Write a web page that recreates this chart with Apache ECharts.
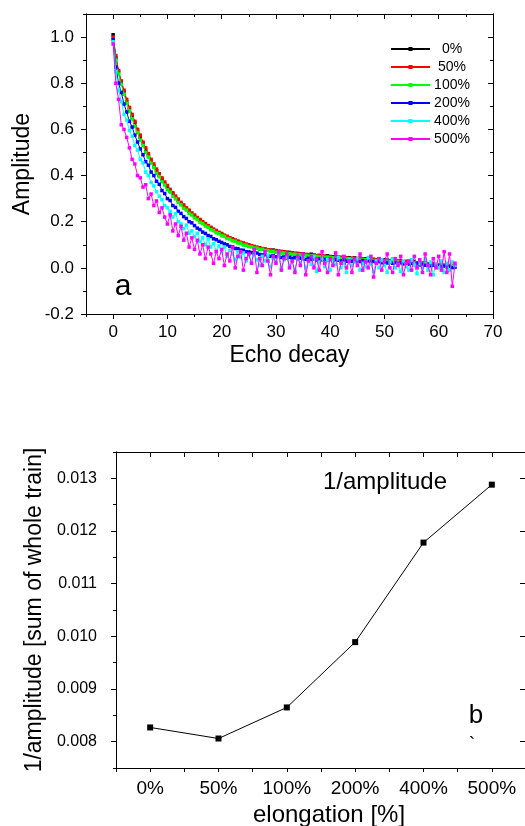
<!DOCTYPE html>
<html>
<head>
<meta charset="utf-8">
<script src="https://cdn.jsdelivr.net/npm/echarts@6/dist/echarts.min.js"></script>
<style>
html,body{margin:0;padding:0;background:#fff;}
#chart{width:525px;height:826px;}
</style>
</head>
<body>
<div id="chart"></div>
<script>
// ---------- Panel a: echo decay ----------
const echoTimes = [0,0.5,1,1.5,2,2.5,3,3.5,4,4.5,5,5.5,6,6.5,7,7.5,8,8.5,9,9.5,10,10.5,11,11.5,12,12.5,13,13.5,14,14.5,15,15.5,16,16.5,17,17.5,18,18.5,19,19.5,20,20.5,21,21.5,22,22.5,23,23.5,24,24.5,25,25.5,26,26.5,27,27.5,28,28.5,29,29.5,30,30.5,31,31.5,32,32.5,33,33.5,34,34.5,35,35.5,36,36.5,37,37.5,38,38.5,39,39.5,40,40.5,41,41.5,42,42.5,43,43.5,44,44.5,45,45.5,46,46.5,47,47.5,48,48.5,49,49.5,50,50.5,51,51.5,52,52.5,53,53.5,54,54.5,55,55.5,56,56.5,57,57.5,58,58.5,59,59.5,60,60.5,61,61.5,62,62.5,63];

const amp0 = [1.01,0.91,0.85,0.80,0.765,0.72,0.69,0.655,0.63,0.595,
0.565,0.54,0.51,0.487,0.462,0.44,0.421,0.40,0.383,0.366,
0.35,0.333,0.32,0.306,0.292,0.279,0.266,0.256,0.245,0.233,
0.224,0.215,0.206,0.195,0.188,0.181,0.173,0.164,0.158,0.152,
0.145,0.14,0.133,0.129,0.122,0.119,0.114,0.108,0.104,0.101,
0.097,0.095,0.09,0.088,0.085,0.083,0.08,0.078,0.076,0.077,
0.073,0.072,0.07,0.069,0.066,0.067,0.064,0.063,0.062,0.06,
0.061,0.058,0.057,0.059,0.055,0.053,0.054,0.051,0.05,0.052,
0.049,0.048,0.05,0.046,0.045,0.047,0.043,0.044,0.041,0.043,
0.04,0.042,0.038,0.039,0.04,0.036,0.037,0.035,0.038,0.034,
0.035,0.033,0.031,0.034,0.03,0.029,0.031,0.027,0.028,0.026,
0.025,0.027,0.022,0.023,0.02,0.021,0.018,0.016,0.017,0.014,
0.012,0.013,0.009,0.01,0.007,0.008,0.005];

const amp50 = [1.0,0.92,0.855,0.81,0.77,0.73,0.695,0.665,0.635,0.60,
0.575,0.545,0.52,0.495,0.47,0.45,0.428,0.408,0.39,0.372,
0.357,0.34,0.326,0.311,0.298,0.284,0.273,0.26,0.25,0.238,
0.229,0.218,0.21,0.2,0.192,0.183,0.176,0.168,0.162,0.154,
0.149,0.141,0.137,0.13,0.126,0.12,0.116,0.111,0.108,0.103,
0.1,0.096,0.093,0.089,0.087,0.083,0.082,0.078,0.077,0.074,
0.075,0.07,0.071,0.067,0.068,0.064,0.065,0.061,0.062,0.059,
0.059,0.056,0.057,0.054,0.055,0.051,0.052,0.049,0.05,0.047,
0.048,0.045,0.047,0.043,0.045,0.042,0.043,0.04,0.041,0.038,
0.04,0.037,0.038,0.035,0.037,0.034,0.035,0.032,0.034,0.031,
0.032,0.029,0.031,0.028,0.029,0.026,0.027,0.025,0.026,0.023,
0.024,0.021,0.022,0.019,0.02,0.017,0.018,0.015,0.016,0.013,
0.014,0.011,0.012,0.009,0.01,0.007,0.008];

const amp100 = [0.99,0.90,0.84,0.795,0.752,0.713,0.68,0.646,0.613,0.586,
0.554,0.53,0.5,0.48,0.454,0.435,0.41,0.395,0.373,0.359,
0.339,0.328,0.31,0.299,0.283,0.273,0.258,0.25,0.236,0.229,
0.216,0.209,0.197,0.192,0.181,0.176,0.165,0.161,0.152,0.148,
0.139,0.136,0.127,0.125,0.117,0.115,0.108,0.106,0.099,0.098,
0.092,0.091,0.086,0.085,0.08,0.08,0.075,0.075,0.071,0.071,
0.067,0.068,0.064,0.064,0.061,0.061,0.058,0.059,0.055,0.056,
0.053,0.054,0.051,0.052,0.049,0.05,0.047,0.048,0.045,0.046,
0.043,0.044,0.042,0.043,0.04,0.041,0.038,0.04,0.037,0.038,
0.035,0.037,0.034,0.035,0.033,0.034,0.031,0.032,0.03,0.031,
0.028,0.029,0.027,0.028,0.025,0.026,0.023,0.025,0.022,0.023,
0.02,0.021,0.018,0.02,0.017,0.018,0.015,0.016,0.013,0.014,
0.011,0.012,0.009,0.01,0.007,0.008,0.006];

const amp200 = [0.99,0.87,0.80,0.76,0.71,0.675,0.635,0.61,0.575,0.545,
0.515,0.49,0.46,0.445,0.415,0.40,0.375,0.362,0.335,0.322,
0.30,0.292,0.27,0.262,0.245,0.236,0.222,0.214,0.2,0.195,
0.183,0.172,0.166,0.155,0.149,0.14,0.136,0.126,0.122,0.115,
0.11,0.104,0.1,0.093,0.091,0.084,0.083,0.077,0.076,0.07,
0.069,0.066,0.062,0.064,0.058,0.056,0.057,0.052,0.05,0.053,
0.048,0.05,0.045,0.047,0.043,0.046,0.041,0.044,0.039,0.042,
0.04,0.037,0.041,0.036,0.039,0.034,0.038,0.035,0.037,0.032,
0.036,0.031,0.035,0.033,0.03,0.034,0.029,0.032,0.028,0.031,
0.029,0.027,0.031,0.026,0.03,0.025,0.028,0.024,0.027,0.022,
0.026,0.021,0.024,0.02,0.023,0.019,0.022,0.017,0.021,0.016,
0.019,0.014,0.018,0.012,0.016,0.011,0.014,0.009,0.012,0.007,
0.01,0.005,0.008,0.003,0.006,0.001,0.004];

const amp400 = [0.98,0.85,0.77,0.72,0.665,0.64,0.595,0.57,0.53,0.51,
0.47,0.455,0.415,0.40,0.37,0.355,0.33,0.31,0.295,0.27,
0.26,0.245,0.22,0.235,0.2,0.19,0.17,0.185,0.15,0.16,
0.135,0.15,0.115,0.13,0.1,0.125,0.09,0.105,0.075,0.095,
0.07,0.09,0.05,0.075,0.06,0.035,0.07,0.045,0.065,0.03,
0.055,0.02,0.06,0.035,0.01,0.05,0.03,0.055,0.005,0.04,
0.025,0.05,0.0,0.035,0.045,0.01,0.03,-0.01,0.04,0.02,
0.045,0.0,0.03,0.015,0.05,-0.015,0.025,0.04,0.005,0.035,
-0.01,0.03,0.015,0.045,0.0,0.02,-0.02,0.035,0.01,0.025,
0.04,-0.01,0.02,0.005,0.045,0.015,-0.015,0.03,0.0,0.035,
0.01,-0.02,0.025,0.04,0.0,0.015,-0.015,0.03,0.005,-0.01,
0.035,0.015,-0.025,0.02,0.0,0.04,-0.01,0.025,-0.03,0.015,
0.0,0.03,-0.02,0.02,-0.01,0.025,0.01];

const amp500 = [0.97,0.80,0.73,0.62,0.60,0.565,0.52,0.47,0.45,0.40,
0.39,0.35,0.36,0.30,0.32,0.27,0.29,0.24,0.26,0.22,
0.19,0.23,0.16,0.19,0.14,0.18,0.12,0.15,0.09,0.13,
0.08,0.12,0.06,0.10,0.04,0.09,0.06,0.02,0.07,0.04,
0.08,0.01,0.06,0.03,0.09,0.0,0.05,0.07,-0.01,0.04,
0.06,0.02,0.08,-0.02,0.04,0.01,0.07,0.03,-0.03,0.05,
0.02,0.07,-0.01,0.04,0.06,0.0,0.03,-0.02,0.05,0.01,
0.06,-0.03,0.03,0.05,0.0,0.04,-0.01,0.07,0.02,-0.02,
0.04,0.01,0.065,-0.03,0.02,0.05,0.0,0.03,-0.02,0.04,
0.01,0.06,-0.01,0.03,0.0,0.05,-0.04,0.02,0.04,-0.01,
0.03,0.06,0.0,-0.02,0.04,0.01,0.05,-0.03,0.02,0.03,
-0.01,0.05,0.0,0.035,-0.02,0.06,0.01,-0.03,0.04,0.0,
0.05,-0.01,0.07,-0.02,0.06,-0.08,0.02];

const seriesNames = ['0%','50%','100%','200%','400%','500%'];
const seriesColors = ['#000000','#ff0000','#00ff00','#0000ff','#00ffff','#ff00ff'];
const seriesValues = [amp0, amp50, amp100, amp200, amp400, amp500];

const xMajorTicksA = [0,10,20,30,40,50,60,70];
const xMinorTicksA = [-5,5,15,25,35,45,55,65];
const yMajorTicksA = [-0.2,0,0.2,0.4,0.6,0.8,1.0];
const yMinorTicksA = [-0.1,0.1,0.3,0.5,0.7,0.9,1.1];

// ---------- Panel b: 1/amplitude ----------
const elongation = ['0%','50%','100%','200%','400%','500%'];
const invAmplitude = [0.00827,0.00806,0.00865,0.00989,0.01178,0.01288];
const xTicksB = [-0.5,0,0.5,1,1.5,2,2.5,3,3.5,4,4.5,5,5.5];
const xLabelsB = [0,1,2,3,4,5];
const yMajorTicksB = [0.008,0.009,0.010,0.011,0.012,0.013];
const yMinorTicksB = [0.0075,0.0085,0.0095,0.0105,0.0115,0.0125,0.0135];

const FONT = '"Liberation Sans", Arial, Helvetica, sans-serif';
const black = '#000';

function axisBase(extra) {
  return Object.assign({
    type: 'value',
    axisLine: {show: true, onZero: false, lineStyle: {color: black, width: 1}},
    splitLine: {show: false},
    axisLabel: {show: false},
    axisTick: {show: false}
  }, extra);
}
function ticks(values, len, inside) {
  return {show: true, customValues: values, length: len, inside: !!inside, lineStyle: {color: black, width: 1}};
}
function catLabel(v) {
  const i = Math.round(v);
  return (i >= 0 && i < elongation.length) ? elongation[i] : '';
}

const gridA = {left: 86, top: 14, width: 407, height: 300, containLabel: false, outerBoundsMode: 'none'};
const gridB = {left: 116, top: 452, width: 410, height: 316, containLabel: false, outerBoundsMode: 'none'};

const option = {
  animation: false,
  backgroundColor: '#fff',
  textStyle: {fontFamily: FONT},
  grid: [
    Object.assign({}, gridA),
    Object.assign({}, gridA),
    Object.assign({}, gridB),
    Object.assign({}, gridB)
  ],
  xAxis: [
    axisBase({gridIndex: 0, position: 'bottom', min: -5, max: 70,
      axisTick: ticks(xMajorTicksA, 5, false),
      axisLabel: {show: true, customValues: xMajorTicksA, fontSize: 17, color: black, margin: 10, fontFamily: FONT},
      name: 'Echo decay', nameLocation: 'middle', nameGap: 30,
      nameTextStyle: {fontSize: 23, color: black, fontFamily: FONT}}),
    axisBase({gridIndex: 0, position: 'top', min: -5, max: 70, axisTick: ticks(xMajorTicksA, 5, true)}),
    axisBase({gridIndex: 1, position: 'bottom', min: -5, max: 70, axisTick: ticks(xMinorTicksA, 3, false)}),
    axisBase({gridIndex: 1, position: 'top', min: -5, max: 70, axisTick: ticks(xMinorTicksA, 3, true)}),
    axisBase({gridIndex: 2, position: 'bottom', min: -0.5, max: 5.5,
      axisTick: ticks(xTicksB, 4, false),
      axisLabel: {show: true, customValues: xLabelsB, fontSize: 19, color: black, margin: 11, fontFamily: FONT,
        formatter: catLabel},
      name: 'elongation [%]', nameLocation: 'middle', nameGap: 35,
      nameTextStyle: {fontSize: 24, color: black, fontFamily: FONT, padding: [0, 0, 0, 16]}}),
    axisBase({gridIndex: 2, position: 'top', min: -0.5, max: 5.5, axisTick: ticks(xTicksB, 5, true)}),
    axisBase({gridIndex: 3, position: 'bottom', min: -0.5, max: 5.5, axisLine: {show: false}})
  ],
  yAxis: [
    axisBase({gridIndex: 0, position: 'left', min: -0.2, max: 1.1,
      axisTick: ticks(yMajorTicksA, 5, false),
      axisLabel: {show: true, customValues: yMajorTicksA, fontSize: 17, color: black, margin: 12, fontFamily: FONT,
        formatter: function (v) { return Number(v).toFixed(1); }},
      name: 'Amplitude', nameLocation: 'middle', nameGap: 50,
      nameTextStyle: {fontSize: 23, color: black, fontFamily: FONT}}),
    axisBase({gridIndex: 0, position: 'right', min: -0.2, max: 1.1, axisTick: ticks(yMajorTicksA, 5, true)}),
    axisBase({gridIndex: 1, position: 'left', min: -0.2, max: 1.1, axisTick: ticks(yMinorTicksA, 3, false)}),
    axisBase({gridIndex: 1, position: 'right', min: -0.2, max: 1.1, axisTick: ticks(yMinorTicksA, 3, true)}),
    axisBase({gridIndex: 2, position: 'left', min: 0.0075, max: 0.0135,
      axisTick: ticks(yMajorTicksB, 5, false),
      axisLabel: {show: true, customValues: yMajorTicksB, fontSize: 16, color: black, margin: 19, fontFamily: FONT,
        formatter: function (v) { return Number(v).toFixed(3); }},
      name: '1/amplitude [sum of whole train]', nameLocation: 'middle', nameGap: 64,
      nameTextStyle: {fontSize: 23, color: black, fontFamily: FONT}}),
    axisBase({gridIndex: 2, position: 'right', min: 0.0075, max: 0.0135, axisTick: ticks(yMajorTicksB, 6, true)}),
    axisBase({gridIndex: 3, position: 'left', min: 0.0075, max: 0.0135, axisTick: ticks(yMinorTicksB, 3, false)})
  ],
  legend: {
    data: seriesNames,
    orient: 'vertical',
    left: 390,
    top: 42,
    padding: 0,
    itemWidth: 39,
    itemHeight: 5,
    itemGap: 4,
    formatter: '{t|{name}}',
    textStyle: {
      color: black, fontSize: 14, fontFamily: FONT,
      rich: {t: {width: 34, align: 'center', fontSize: 14, lineHeight: 14, color: black, fontFamily: FONT}}
    }
  },
  series: seriesNames.map(function (name, k) {
    return {
      name: name,
      type: 'line',
      xAxisIndex: 0,
      yAxisIndex: 0,
      data: echoTimes.map(function (t, i) { return [t, seriesValues[k][i]]; }),
      symbol: 'rect',
      symbolSize: 3.5,
      lineStyle: {color: seriesColors[k], width: 1},
      itemStyle: {color: seriesColors[k]},
      z: 2 + k
    };
  }).concat([{
    name: 'inv',
    type: 'line',
    xAxisIndex: 4,
    yAxisIndex: 4,
    data: elongation.map(function (e, i) { return [i, invAmplitude[i]]; }),
    symbol: 'rect',
    symbolSize: 6,
    lineStyle: {color: black, width: 1},
    itemStyle: {color: black}
  }]),
  graphic: [
    {type: 'text', style: {text: 'a', x: 123, y: 287, textAlign: 'center', textVerticalAlign: 'middle', font: '30px ' + FONT, fill: black}},
    {type: 'text', style: {text: '1/amplitude', x: 385, y: 482, textAlign: 'center', textVerticalAlign: 'middle', font: '24px ' + FONT, fill: black}},
    {type: 'text', style: {text: 'b', x: 476, y: 716, textAlign: 'center', textVerticalAlign: 'middle', font: '26px ' + FONT, fill: black}},
    {type: 'text', style: {text: '`', x: 472, y: 745, textAlign: 'center', textVerticalAlign: 'middle', font: '18px ' + FONT, fill: black}}
  ]
};

const chart = echarts.init(document.getElementById('chart'), null, {renderer: 'canvas'});
chart.setOption(option);
</script>
</body>
</html>
